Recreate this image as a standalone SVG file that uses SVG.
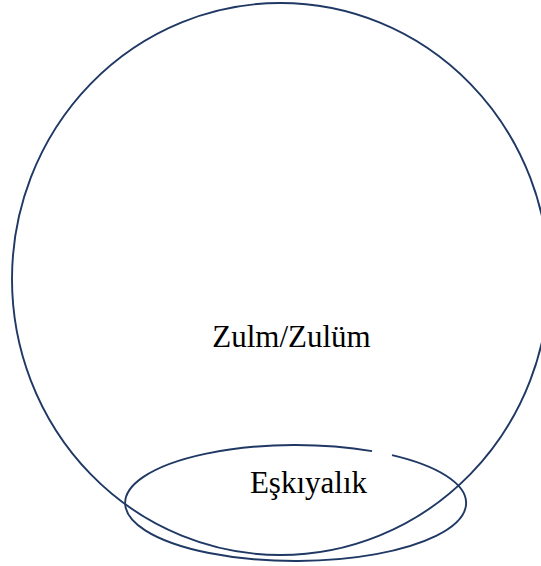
<svg xmlns="http://www.w3.org/2000/svg" width="541" height="566" viewBox="0 0 541 566">
<style>
.shape{fill:none;stroke:#1F3864;stroke-width:1.9}
.lbl{font-family:"Liberation Serif","Times New Roman",serif;font-size:31px;fill:#000;text-anchor:middle}
</style>
<rect width="541" height="566" fill="#fff"/>
<g id="zulm">
<ellipse class="shape" cx="280.5" cy="279" rx="268.5" ry="276"/>
<text class="lbl" x="291.5" y="347">Zulm/Zulüm</text>
</g>
<g id="eskiyalik">
<path class="shape" d="M392,455.18 A170.5 58 0 1 1 372,451.17"/>
<text class="lbl" x="308.5" y="493">Eşkıyalık</text>
</g>
<g id="connectors"></g>
</svg>
